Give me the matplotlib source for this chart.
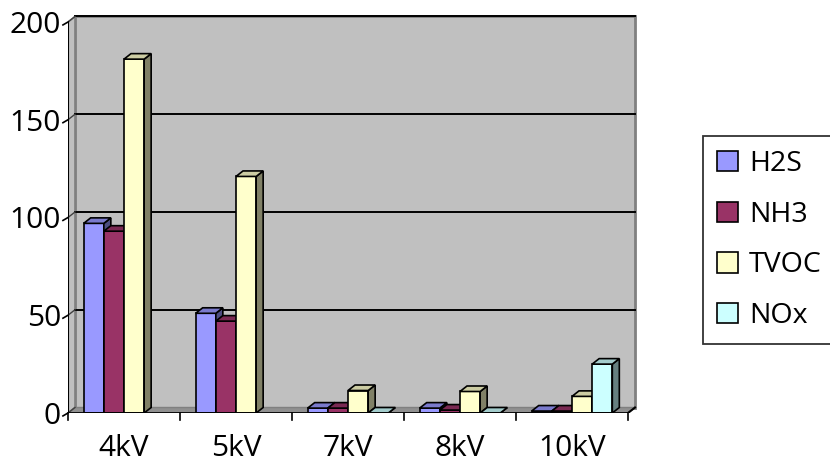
import matplotlib
matplotlib.use("Agg")
import matplotlib.pyplot as plt
from matplotlib.patches import Polygon
import numpy as np

plt.rcParams['font.family'] = ['Open Sans', 'DejaVu Sans']

categories = ['4kV', '5kV', '7kV', '8kV', '10kV']
series = ['H2S', 'NH3', 'TVOC', 'NOx']
h2s = [97, 51, 2.5, 2.5, 1]
nh3 = [93, 47, 2.5, 1.5, 1]
tvoc = [181, 121, 11.5, 11, 8.5]
nox = [np.nan, np.nan, 0, 0, 25]
yticks = [0, 50, 100, 150, 200]

colors = ['#9999FF', '#993366', '#FFFFCC', '#CCFFFF']


def shade(c, f):
	rgb = np.array(matplotlib.colors.to_rgb(c))
	return tuple(rgb * f)


fig = plt.figure(figsize=(8.3, 4.65), dpi=100)
ax = fig.add_axes([68 / 830, 52 / 465, 580 / 830, 403 / 465])
ppx = 112.0     # pixels per category
ppy = 1.955     # pixels per unit
ax.set_xlim(-0.5, -0.5 + 580 / ppx)
ax.set_ylim(0, 403 / ppy)
for s in ax.spines.values():
	s.set_visible(False)
ax.patch.set_visible(False)

dx = 7 / ppx
dy = 5.5 / ppy
x0, x1 = -0.5, 4.5

# walls and floor
ax.add_patch(Polygon([(x0 + dx, dy), (x1 + dx, dy), (x1 + dx, 200 + dy), (x0 + dx, 200 + dy)],
	closed=True, facecolor='#C0C0C0', edgecolor='#808080', lw=2, zorder=0))
ax.add_patch(Polygon([(x0, 0), (x0 + dx, dy), (x0 + dx, 200 + dy), (x0, 200)],
	closed=True, facecolor='#C0C0C0', edgecolor='#808080', lw=1.2, zorder=0))
ax.add_patch(Polygon([(x0, 0), (x1, 0), (x1 + dx, dy), (x0 + dx, dy)],
	closed=True, facecolor='#909090', edgecolor='#808080', lw=1, zorder=0))

# gridlines
for v in yticks[1:]:
	ax.plot([x0 + dx, x1 + dx], [v + dy, v + dy], color='black', lw=1.4, zorder=1)
for v in yticks:
	ax.plot([x0, x0 + dx], [v, v + dy], color='#404040', lw=1, zorder=1)
	ax.plot([x0 - 0.045, x0], [v - 1.5, v], color='black', lw=1.2, zorder=5, clip_on=False)

# axis lines
ax.plot([x0, x0], [0, 200], color='black', lw=1.5, zorder=5)
ax.plot([x0, x1], [0, 0], color='black', lw=2, zorder=5)
ax.plot([x1, x1 + dx], [0, dy], color='black', lw=1.5, zorder=5)
for k in range(6):
	ax.plot([x0 + k, x0 + k], [0, -3.5], color='black', lw=1.2, zorder=5, clip_on=False)

# bars
w = 0.18
ind = np.arange(len(categories))
handles = []
for j, (name, vals) in enumerate(zip(series, [h2s, nh3, tvoc, nox])):
	xs = ind + (j - 1.5) * w
	bars = ax.bar(xs, vals, w, color=colors[j], edgecolor='black', lw=1.2, label=name, zorder=2 + j * 0.1)
	handles.append(bars)
	for x, v in zip(xs, vals):
		if np.isnan(v):
			continue
		xl = x - w / 2
		xr = x + w / 2
		top = [(xl, v), (xr, v), (xr + dx, v + dy), (xl + dx, v + dy)]
		side = [(xr, 0), (xr + dx, dy), (xr + dx, v + dy), (xr, v)]
		ax.add_patch(Polygon(side, closed=True, facecolor=shade(colors[j], 0.5),
			edgecolor='black', lw=1.2, zorder=2 + j * 0.1))
		ax.add_patch(Polygon(top, closed=True, facecolor=shade(colors[j], 0.8),
			edgecolor='black', lw=1.2, zorder=2 + j * 0.1))

ax.set_yticks(yticks)
ax.set_yticklabels([str(v) for v in yticks])
ax.set_xticks(ind)
ax.set_xticklabels(categories)
ax.tick_params(axis='both', length=0, labelsize=21.5)
ax.tick_params(axis='y', pad=5)
ax.tick_params(axis='x', pad=15)

fig.legend(handles=handles, labels=series, loc='center left',
	bbox_to_anchor=(703 / 830, (465 - 240) / 465), fontsize=20.5, frameon=True,
	fancybox=False, edgecolor='black', borderaxespad=0, borderpad=0.5,
	labelspacing=0.8, handlelength=0.72, handleheight=0.72, handletextpad=0.4)
fig.legends[0].get_frame().set_linewidth(1.3)

fig.savefig('out.png', dpi=100)
